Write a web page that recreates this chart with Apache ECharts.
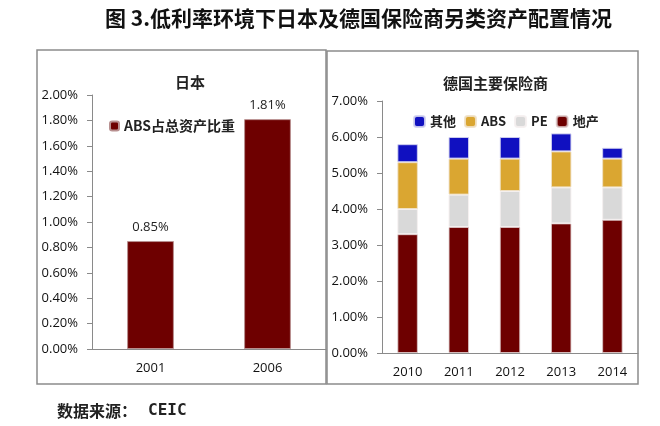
<!DOCTYPE html>
<html><head><meta charset="utf-8">
<script src="https://cdn.jsdelivr.net/npm/echarts@6/dist/echarts.min.js"></script>
<style>html,body{margin:0;padding:0;background:#fff}#c{width:660px;height:426px}</style>
</head><body><div id="c"></div>
<script>
// Japan panel
var jpCategories = ['2001', '2006'];
var jpAbsShare = [0.85, 1.81];
var jpTicks = [0, 0.2, 0.4, 0.6, 0.8, 1.0, 1.2, 1.4, 1.6, 1.8, 2.0];
// Germany panel
var deCategories = ['2010', '2011', '2012', '2013', '2014'];
var deRealEstate = [3.3, 3.5, 3.5, 3.6, 3.7];
var dePE = [0.7, 0.9, 1.0, 1.0, 0.9];
var deABS = [1.3, 1.0, 0.9, 1.0, 0.8];
var deOther = [0.5, 0.6, 0.6, 0.5, 0.3];

var FONT = '"Open Sans", "Noto Sans CJK SC", sans-serif';
var CJK = '"Noto Sans CJK SC", sans-serif';
var pct = function (v) { return v.toFixed(2) + '%'; };
var axisLineStyle = { color: '#8a8a8a', width: 1 };

var chart = echarts.init(document.getElementById('c'));
chart.setOption({
  animation: false,
  backgroundColor: '#fff',
  textStyle: { fontFamily: FONT },
  title: [
    { text: '图 3.低利率环境下日本及德国保险商另类资产配置情况', left: 100, top: 3,
      textStyle: { fontFamily: CJK, fontSize: 21, fontWeight: 'bold', color: '#111' } },
    { text: '日本', left: 170, top: 70,
      textStyle: { fontFamily: CJK, fontSize: 15, fontWeight: 'bold', color: '#222' } },
    { text: '德国主要保险商', left: 438, top: 71,
      textStyle: { fontFamily: CJK, fontSize: 15, fontWeight: 'bold', color: '#222' } },
    { text: '{a|数据来源：}{b|CEIC}', left: 52, top: 398,
      textStyle: { rich: {
        a: { fontFamily: CJK, fontSize: 16, fontWeight: 'bold', color: '#222' },
        b: { fontFamily: '"DejaVu Sans Mono", monospace', fontSize: 16, fontWeight: 'bold', color: '#222', padding: [0, 0, 0, 11] }
      } } }
  ],
  graphic: [
    { type: 'rect', shape: { x: 37, y: 50, width: 289, height: 334 },
      style: { fill: 'none', stroke: '#8c8c8c', lineWidth: 1.5 }, silent: true },
    { type: 'rect', shape: { x: 327, y: 51, width: 311, height: 333 },
      style: { fill: 'none', stroke: '#8c8c8c', lineWidth: 1.5 }, silent: true }
  ],
  legend: [
    { data: ['ABS占总资产比重'], left: 104, top: 114, itemWidth: 9, itemHeight: 9,
      textStyle: { fontFamily: CJK, fontSize: 14, fontWeight: 'bold', color: '#222' } },
    { data: ['其他', 'ABS', 'PE', '地产'], left: 408, top: 110, itemWidth: 11, itemHeight: 11,
      itemGap: 8,
      textStyle: { fontFamily: CJK, fontSize: 13, fontWeight: 'bold', color: '#222' } }
  ],
  grid: [
    { left: 92, right: 334, top: 95, bottom: 77 },
    { left: 382, right: 22, top: 101, bottom: 73 }
  ],
  xAxis: [
    { type: 'category', gridIndex: 0, data: jpCategories,
      axisLine: { lineStyle: axisLineStyle }, axisTick: { length: 5, lineStyle: axisLineStyle },
      axisLabel: { color: '#111', fontSize: 13, margin: 13 } },
    { type: 'category', gridIndex: 1, data: deCategories,
      axisLine: { lineStyle: axisLineStyle }, axisTick: { length: 5, lineStyle: axisLineStyle },
      axisLabel: { color: '#111', fontSize: 13, margin: 13 } }
  ],
  yAxis: [
    { type: 'value', gridIndex: 0, min: jpTicks[0], max: jpTicks[jpTicks.length - 1], interval: 0.2,
      axisLine: { show: true, lineStyle: axisLineStyle },
      axisTick: { show: true, length: 5, lineStyle: axisLineStyle },
      splitLine: { show: false },
      axisLabel: { color: '#111', fontSize: 13, margin: 14, formatter: pct } },
    { type: 'value', gridIndex: 1, min: 0, max: 7, interval: 1,
      axisLine: { show: true, lineStyle: axisLineStyle },
      axisTick: { show: true, length: 5, lineStyle: axisLineStyle },
      splitLine: { show: false },
      axisLabel: { color: '#111', fontSize: 13, margin: 14, formatter: pct } }
  ],
  series: [
    { name: 'ABS占总资产比重', type: 'bar', xAxisIndex: 0, yAxisIndex: 0, data: jpAbsShare,
      barWidth: '40%',
      itemStyle: { color: '#6e0000', borderColor: '#b89090', borderWidth: 1 },
      label: { show: true, position: 'top', distance: 7, color: '#222', fontSize: 13, formatter: function (p) { return pct(p.value); } } },
    { name: '地产', type: 'bar', stack: 'de', xAxisIndex: 1, yAxisIndex: 1, data: deRealEstate,
      barWidth: '40%', itemStyle: { color: '#6e0000', borderColor: 'rgba(220,200,200,0.8)', borderWidth: 1 } },
    { name: 'PE', type: 'bar', stack: 'de', xAxisIndex: 1, yAxisIndex: 1, data: dePE,
      barWidth: '40%', itemStyle: { color: '#d9d9d9', borderColor: 'rgba(245,240,240,0.9)', borderWidth: 1 } },
    { name: 'ABS', type: 'bar', stack: 'de', xAxisIndex: 1, yAxisIndex: 1, data: deABS,
      barWidth: '40%', itemStyle: { color: '#daa631', borderColor: 'rgba(240,225,200,0.9)', borderWidth: 1 } },
    { name: '其他', type: 'bar', stack: 'de', xAxisIndex: 1, yAxisIndex: 1, data: deOther,
      barWidth: '40%', itemStyle: { color: '#1010c0', borderColor: 'rgba(210,210,240,0.9)', borderWidth: 1 } }
  ]
});
</script></body></html>
